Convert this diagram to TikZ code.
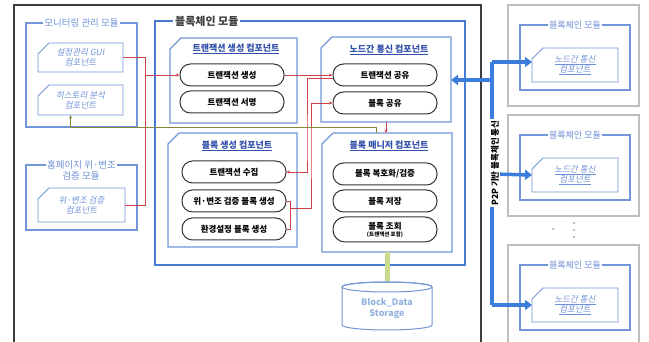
\documentclass[tikz,border=0pt]{standalone}
\usepackage{fontspec}
\setmainfont{Noto Sans CJK KR}[AutoFakeSlant=0.2]
\usetikzlibrary{arrows.meta}
\definecolor{mblue}{RGB}{70,125,210}
\definecolor{cblue}{RGB}{115,150,215}
\definecolor{tblue}{RGB}{50,80,170}
\definecolor{lblue}{RGB}{110,145,215}
\definecolor{rline}{RGB}{205,65,75}
\definecolor{oline}{RGB}{135,135,60}
\definecolor{gline}{RGB}{200,220,140}
\definecolor{gframe}{RGB}{190,190,190}
\definecolor{dframe}{RGB}{60,60,60}
\definecolor{p2p}{RGB}{60,125,220}
\definecolor{dbtext}{RGB}{150,180,225}
\newcommand\chamfbox[3][]{\draw[#1] ([xshift=#3]#2.north west) -- (#2.north east) -- (#2.south east) -- (#2.south west) -- ([yshift=-#3]#2.north west) -- cycle;}
\tikzset{
  holder/.style={draw=none, inner sep=0pt, outer sep=0pt, anchor=north west},
  cbox/.style={draw=cblue, line width=1.1pt},
  mbox/.style={draw=mblue, line width=1.6pt},
  pill/.style={draw=black!80, line width=1pt, rounded corners=10.5pt, minimum width=104pt, minimum height=22pt, inner sep=1pt, align=center, font=\fontsize{8.5}{9}\selectfont\bfseries},
  ctitle/.style={text=tblue, font=\fontsize{9}{10}\selectfont\bfseries\itshape, inner sep=1pt},
  cardtext/.style={text=lblue, font=\fontsize{8.5}{10}\selectfont\itshape, align=center},
  mtitle/.style={text=lblue, fill=white, font=\fontsize{9.5}{11}\selectfont, inner sep=1pt, align=center},
  rl/.style={draw=rline, line width=0.7pt, -{Stealth[length=3.5pt,width=3pt]}},
  rln/.style={draw=rline, line width=0.7pt},
  bigarrow/.style={draw=p2p, line width=3.5pt, -{Triangle[width=10pt,length=7pt]}},
  gframe/.style={draw=gframe, line width=2.4pt},
}
\begin{document}
\begin{tikzpicture}[x=1pt,y=-1pt]
\useasboundingbox (0,0) rectangle (649,342);
\fill[white] (0,0) rectangle (649,342);
% outer frame
\draw[dframe, line width=1.8pt] (14,350) -- (14,5) -- (481,5) -- (481,350);

% ---------- monitoring module ----------
\node[holder, minimum width=111pt, minimum height=104pt] (mon) at (26,23) {};
\draw[cbox] (mon.north west) rectangle (mon.south east);
\node[mtitle] (mont) at (mon.north) {모니터링 관리 모듈};
\node[holder, minimum width=85pt, minimum height=29pt] (gui) at (38,43) {};
\chamfbox[cbox, line width=0.8pt]{gui}{11pt}
\node[cardtext] (guit) at (gui.center) {설정관리 GUI\\컴포넌트};
\node[holder, minimum width=85pt, minimum height=30pt] (hist) at (38,85) {};
\chamfbox[cbox, line width=0.8pt]{hist}{11pt}
\node[cardtext] (histt) at (hist.center) {히스토리 분석\\컴포넌트};

% ---------- homepage verification module ----------
\node[holder, minimum width=111pt, minimum height=65pt] (hp) at (26,165) {};
\draw[cbox] (hp.north west) rectangle (hp.south east);
\node[mtitle] (hpt1) at (hp.north) {홈페이지 위·변조};
\node[mtitle] (hpt2) at (81,176) {검증 모듈};
\node[holder, minimum width=87pt, minimum height=34pt] (ver) at (38,188) {};
\chamfbox[cbox, line width=0.8pt]{ver}{11pt}
\node[cardtext] (vert) at (ver.center) {위·변조 검증\\컴포넌트};

% ---------- blockchain module ----------
\node[holder, minimum width=310pt, minimum height=244pt] (bc) at (155,21) {};
\draw[mbox] (bc.north west) rectangle (bc.south east);
\node[fill=white, inner sep=2pt, anchor=west, text=black!75, font=\fontsize{11}{12}\selectfont\bfseries] (bct) at (173,21) {블록체인 모듈};

% transaction generation component
\node[holder, minimum width=127pt, minimum height=85pt] (tgc) at (170,38) {};
\chamfbox[cbox]{tgc}{11pt}
\node[ctitle] (tgct) at (236,49) {\underline{트랜잭션 생성 컴포넌트}};
\node[pill] (txgen) at (232,75) {트랜잭션 생성};
\node[pill] (txsign) at (232,102) {트랜잭션 서명};

% node communication component
\node[holder, minimum width=130pt, minimum height=85pt] (ncc) at (321,37) {};
\chamfbox[cbox]{ncc}{11pt}
\node[ctitle] (ncct) at (389,50) {\underline{노드간 통신 컴포넌트}};
\node[pill] (txshare) at (385,75) {트랜잭션 공유};
\node[pill] (bshare) at (385,103) {블록 공유};

% block generation component
\node[holder, minimum width=129pt, minimum height=114pt] (bgc) at (168,133) {};
\chamfbox[cbox]{bgc}{11pt}
\node[ctitle] (bgct) at (237,146) {\underline{블록 생성 컴포넌트}};
\node[pill] (txcol) at (234,172) {트랜잭션 수집};
\node[pill] (bvgen) at (234,201) {위·변조 검증 블록 생성};
\node[pill] (bcfg) at (234,229) {환경설정 블록 생성};

% block manager component
\node[holder, minimum width=130pt, minimum height=119pt] (bmc) at (322,133) {};
\chamfbox[cbox]{bmc}{11pt}
\node[ctitle] (bmct) at (389,146) {\underline{블록 매니저 컴포넌트}};
\node[pill] (bdec) at (385,174) {블록 복호화/검증};
\node[pill] (bsave) at (385,201) {블록 저장};
\node[pill, minimum height=25pt, rounded corners=12pt, font=\fontsize{8.5}{8}\selectfont\bfseries] (bquery) at (385,229.5) {블록 조회\\[-1pt]{\fontsize{5.5}{6}\selectfont (트랜잭션 포함)}};

% ---------- storage ----------
\node[minimum width=90pt, minimum height=48pt, inner sep=0pt] (db) at (387,306) {};
\draw[gline, line width=5pt] (bmc.south) -- (db.north);
\draw[cblue, line width=1pt, fill=white] (342,287) -- (342,325) arc[start angle=180, end angle=360, x radius=45pt, y radius=5pt] -- (432,287) arc[start angle=0, end angle=180, x radius=45pt, y radius=5pt];
\draw[cblue, line width=1pt] (387,287) ellipse[x radius=45pt, y radius=5pt];
\node[text=dbtext, font=\fontsize{9}{11}\selectfont\bfseries, align=center] (dbt) at (387,308) {Block\_Data\\Storage};

% ---------- red connectors ----------
\coordinate (j1) at (145,75);
\draw[rln] (gui.east) -| (j1);
\draw[rln] (ver.east) -| (j1);
\draw[rl] (j1) -- (txgen.west);
\draw[rl] (txgen.east) -- (txshare.west);
\draw[rl] ([yshift=-3pt]txshare.west) -| (307,150) |- (txcol.east);
\coordinate (bj) at (290,208);
\draw[rln] (bvgen.east) -- (bvgen.east -| bj) -- (bcfg.east -| bj) -- (bcfg.east);
\draw[rl] (bj) -| (311,150) |- (bshare.west);
\draw[rl] (ncc.south) -- (ncc.south |- bmc.north);

% olive connector to history analysis
\coordinate (o1) at (376,133);
\draw[oline, line width=0.8pt, -{Stealth[length=3.5pt,width=3pt]}] (o1) -- (376,127) -| ([xshift=-10pt]hist.south);

% ---------- right side peer modules ----------
\foreach \i/\t in {1/5, 2/115, 3/245} {
  \node[holder, minimum width=131pt, minimum height=101pt] (pf\i) at (508,\t) {};
  \draw[gframe] (pf\i.north west) rectangle (pf\i.south east);
  \node[holder, minimum width=110pt, minimum height=65pt] (pm\i) at (520,\t+20) {};
  \draw[cbox] (pm\i.north west) rectangle (pm\i.south east);
  \node[mtitle, font=\fontsize{9}{10}\selectfont] (pmt\i) at (pm\i.north) {블록체인 모듈};
  \node[holder, minimum width=86pt, minimum height=34pt] (pc\i) at (532,\t+43) {};
  \chamfbox[cbox, line width=0.8pt]{pc\i}{11pt}
  \node[cardtext, font=\fontsize{8.5}{10}\selectfont\itshape] (pct\i) at (pc\i.center) {\underline{노드간 통신}\\\underline{컴포넌트}};
}
% dots
\fill[gframe!80!black] (553,229) circle (1pt);
\foreach \yy in {223,230,237} \fill[gframe!80!black] (574,\yy) circle (1pt);

% ---------- P2P arrows ----------
\coordinate (pv) at (492,80);
\draw[p2p, line width=3.5pt] (492,62) -- (492,305);
\draw[bigarrow] (492,62) -- (pc1.west |- 0,62);
\draw[bigarrow] (492,174) -- (pc2.west);
\draw[bigarrow] (492,305) -- (pc3.west);
\draw[bigarrow] (pv) -- (pv -| ncc.east);
\node[fill=white, rotate=90, inner sep=1pt, font=\fontsize{8.5}{9}\selectfont\bfseries] (p2pt) at (495,163) {P2P 기반 블록체인 통신};
\end{tikzpicture}
\end{document}
